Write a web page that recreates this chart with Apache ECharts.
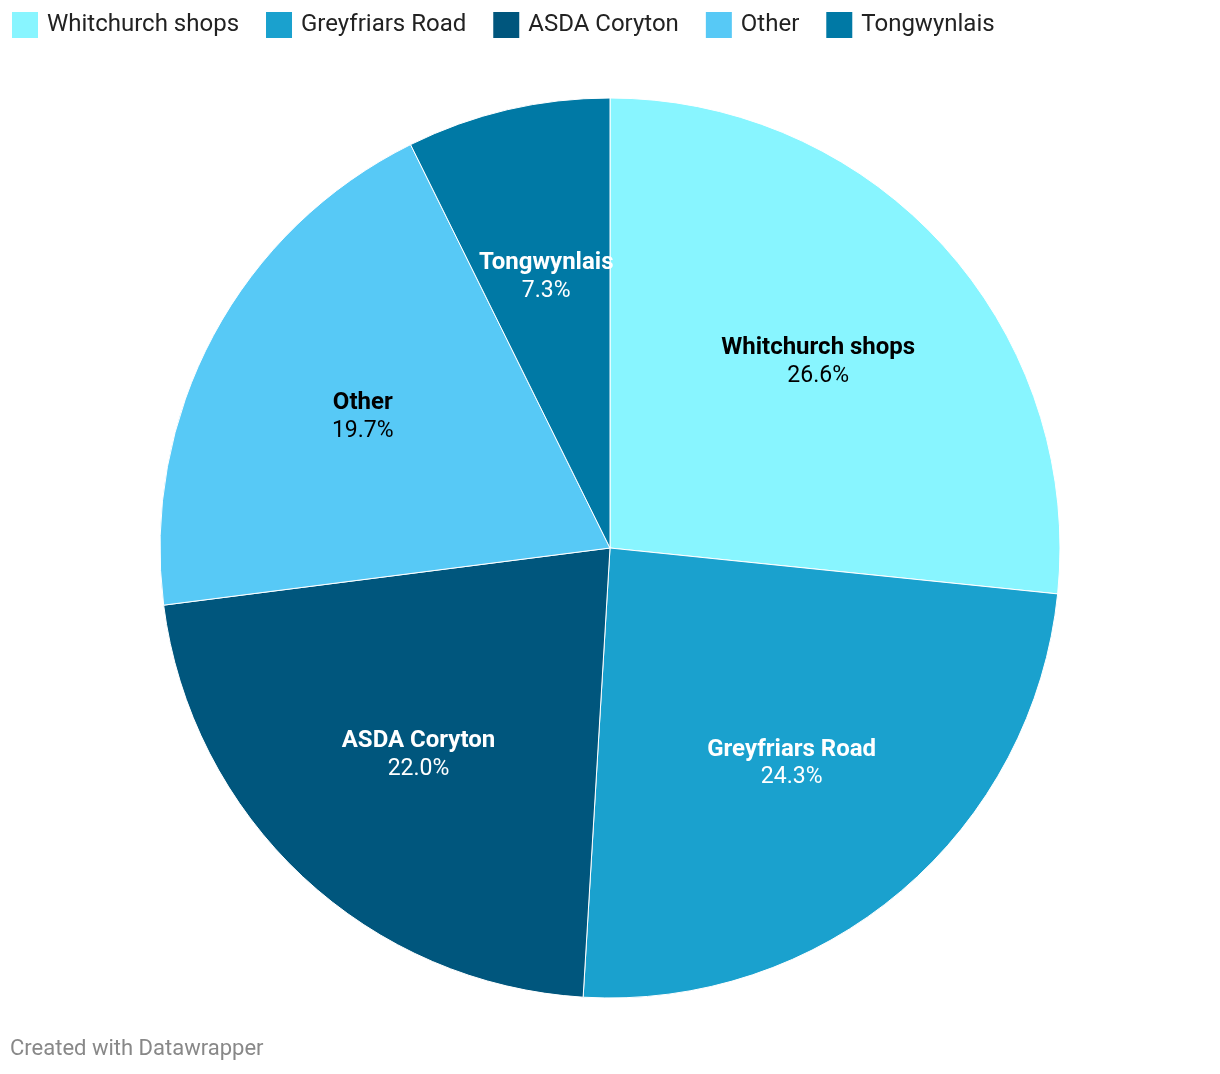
<!DOCTYPE html>
<html>
<head>
<meta charset="utf-8">
<script src="https://cdn.jsdelivr.net/npm/echarts@6/dist/echarts.min.js"></script>
<style>
  html, body { margin: 0; padding: 0; background: #fff; }
  #chart { width: 1220px; height: 1074px; }
</style>
</head>
<body>
<div id="chart"></div>
<script>
// shop locations and share of responses (%)
const places = ['Whitchurch shops', 'Greyfriars Road', 'ASDA Coryton', 'Other', 'Tongwynlais'];
const shares = [26.6, 24.3, 22.0, 19.7, 7.3];
const colors = ['#88f5ff', '#1aa1ce', '#00567d', '#57c9f6', '#0079a5'];
const labelColors = ['#000', '#fff', '#fff', '#000', '#fff'];

let myChart = echarts.init(document.getElementById('chart'));

let pieData = places.map((name, i) => ({
  value: shares[i],
  name: name,
  itemStyle: { color: colors[i] }
}));

// second, see-through ring only to put the labels a bit further out
let labelData = places.map((name, i) => ({
  value: shares[i],
  name: name,
  itemStyle: { color: 'rgba(0,0,0,0)', borderWidth: 0 },
  label: { color: labelColors[i] }
}));

let option = {
  animation: false,
  color: colors,
  legend: {
    left: 10,
    top: 10,
    padding: 0,
    itemWidth: 28,
    itemHeight: 28,
    itemGap: 25,
    icon: 'rect',
    data: places.map((n, i) => ({ name: n, itemStyle: { color: colors[i] } })),
    textStyle: { fontFamily: 'Roboto', fontSize: 24, color: '#222', padding: [0, 0, 0, 3] }
  },
  graphic: [{
    type: 'text',
    left: 10,
    top: 1038,
    style: { text: 'Created with Datawrapper', fontFamily: 'Roboto', fontSize: 22, fill: '#888' }
  }],
  series: [{
    name: 'shops',
    type: 'pie',
    center: [610, 548],
    radius: [0, 450],
    startAngle: 90,
    clockwise: true,
    silent: true,
    label: { show: false },
    labelLine: { show: false },
    itemStyle: { borderColor: '#fff', borderWidth: 1 },
    data: pieData
  }, {
    name: 'labels',
    type: 'pie',
    center: [610, 548],
    radius: [105, 450],
    startAngle: 90,
    clockwise: true,
    silent: true,
    labelLine: { show: false },
    label: {
      show: true,
      position: 'inside',
      offset: [0, 2],
      fontFamily: 'Roboto',
      formatter: p => '{n|' + p.name + '}\n{v|' + p.value.toFixed(1) + '%}',
      rich: {
        n: { fontFamily: 'Roboto', fontSize: 24, fontWeight: 'bold', lineHeight: 28 },
        v: { fontFamily: 'Roboto', fontSize: 23, lineHeight: 28 }
      }
    },
    data: labelData
  }]
};

myChart.setOption(option);
</script>
</body>
</html>
